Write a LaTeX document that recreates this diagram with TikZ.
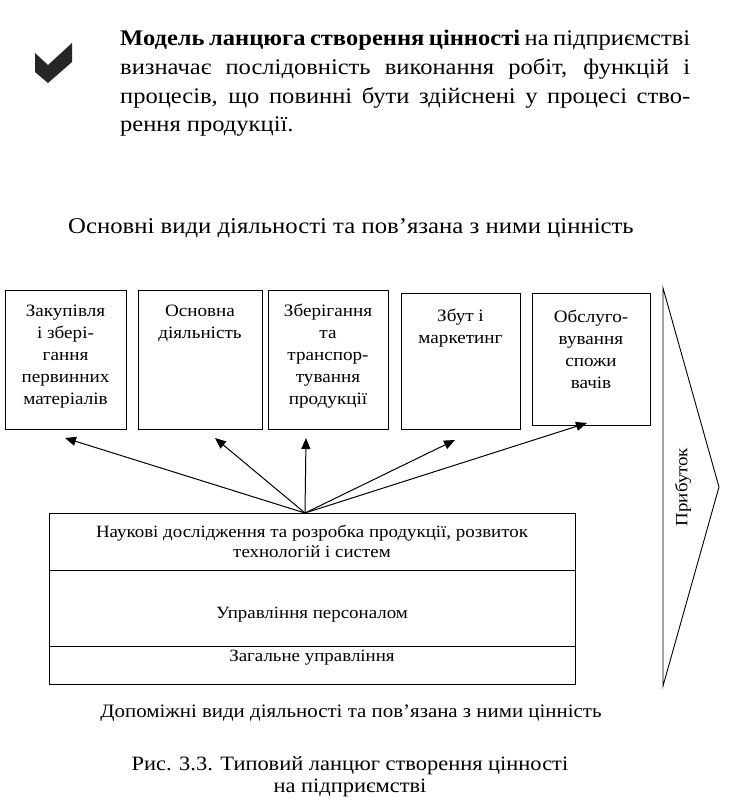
\documentclass[tikz,border=0pt]{standalone}
\usepackage{fontspec}
\setmainfont{Liberation Serif}[FakeStretch=1.1]
\usetikzlibrary{arrows.meta}
\begin{document}
\begin{tikzpicture}[x=1pt,y=-1pt,
  box/.style={draw, line width=0.9pt, anchor=north west, inner sep=0pt},
  boxtext/.style={anchor=base, align=center, inner sep=0pt, font=\fontsize{17.4}{22}\selectfont},
  para/.style={anchor=base west, inner sep=0pt, font=\fontsize{22.3}{29}\selectfont},
  big/.style={anchor=base, inner sep=0pt, font=\fontsize{22.5}{29}\selectfont},
  mid/.style={anchor=base, align=center, inner sep=0pt, font=\fontsize{17.2}{20}\selectfont},
  captext/.style={anchor=base, align=center, inner sep=0pt, font=\fontsize{20.4}{22}\selectfont},
  arr/.style={line width=1pt, -{Triangle[length=11pt,width=9pt]}}]
\useasboundingbox (0,0) rectangle (752,804);
% check mark
\fill[black!85] (35,53) -- (48,65) -- (72,43) -- (72,62) -- (48,83) -- (35,72) -- cycle;
% paragraph
\node[para] (p1) at (120,45) {\makebox[570pt][s]{\textbf{Модель ланцюга створення цінності} на підприємстві}};
\node[para] (p2) at (120,74) {\makebox[570pt][s]{визначає послідовність виконання робіт, функцій і}};
\node[para] (p3) at (120,103) {\makebox[570pt][s]{процесів, що повинні бути здійснені у процесі ство-}};
\node[para] (p4) at (120,131) {рення продукції.};
\node[big] (h1) at (351,233) {Основні види діяльності та пов’язана з ними цінність};
% top boxes
\node[box, minimum width=121pt, minimum height=139pt] (b1) at (5,290) {};
\node[box, minimum width=124pt, minimum height=139pt] (b2) at (138,290) {};
\node[box, minimum width=120pt, minimum height=139pt] (b3) at (268,290) {};
\node[box, minimum width=119pt, minimum height=136pt] (b4) at (401,293) {};
\node[box, minimum width=118pt, minimum height=132pt] (b5) at (532,293) {};
% (base anchor = last line baseline)
\node[boxtext] (l1) at (65.5,404) {Закупівля\\і збері-\\гання\\первинних\\матеріалів};
\node[boxtext] (l2) at (200,338) {Основна\\діяльність};
\node[boxtext] (l3) at (328,404) {Зберігання\\та\\транспор-\\тування\\продукції};
\node[boxtext] (l4) at (460.5,343) {Збут і\\маркетинг};
\node[boxtext] (l5) at (591,388) {Обслуго-\\вування\\спожи\\вачів};
% bottom box
\node[box, minimum width=526pt, minimum height=57pt] (s1) at (49,513) {};
\node[box, minimum width=526pt, minimum height=76pt] (s2) at (49,570) {};
\node[box, minimum width=526pt, minimum height=38pt] (s3) at (49,646) {};
\node[mid] (m1) at (312,557) {Наукові дослідження та розробка продукції, розвиток\\технологій і систем};
\node[mid] (m2) at (312,618) {Управління персоналом};
\node[mid] (m3) at (312,661) {Загальне управління};
% arrows
\coordinate (fan) at (305,513);
\coordinate (t1) at (65,438);
\coordinate (t2) at (215,438);
\coordinate (t3) at (306,438);
\coordinate (t4) at (455,440);
\coordinate (t5) at (587,423);
\foreach \t in {t1,t2,t3,t4,t5} \draw[arr] (fan) -- (\t);
% profit arrow
\coordinate (pa) at (663,288);
\coordinate (pb) at (719,487);
\coordinate (pc) at (663,686);
\draw[line width=0.9pt, line join=miter] (pa) -- (pb) -- (pc) -- cycle;
\node[rotate=90, inner sep=0pt, font=\fontsize{17.2}{20}\selectfont] (pr) at (683,487) {Прибуток};
% captions
\node[captext, font=\fontsize{19}{22}\selectfont] (d1) at (351,717) {Допоміжні види діяльності та пов’язана з ними цінність};
\node[captext] (c1) at (350,792) {Рис. 3.3. Типовий ланцюг створення цінності\\на підприємстві};
\end{tikzpicture}
\end{document}
